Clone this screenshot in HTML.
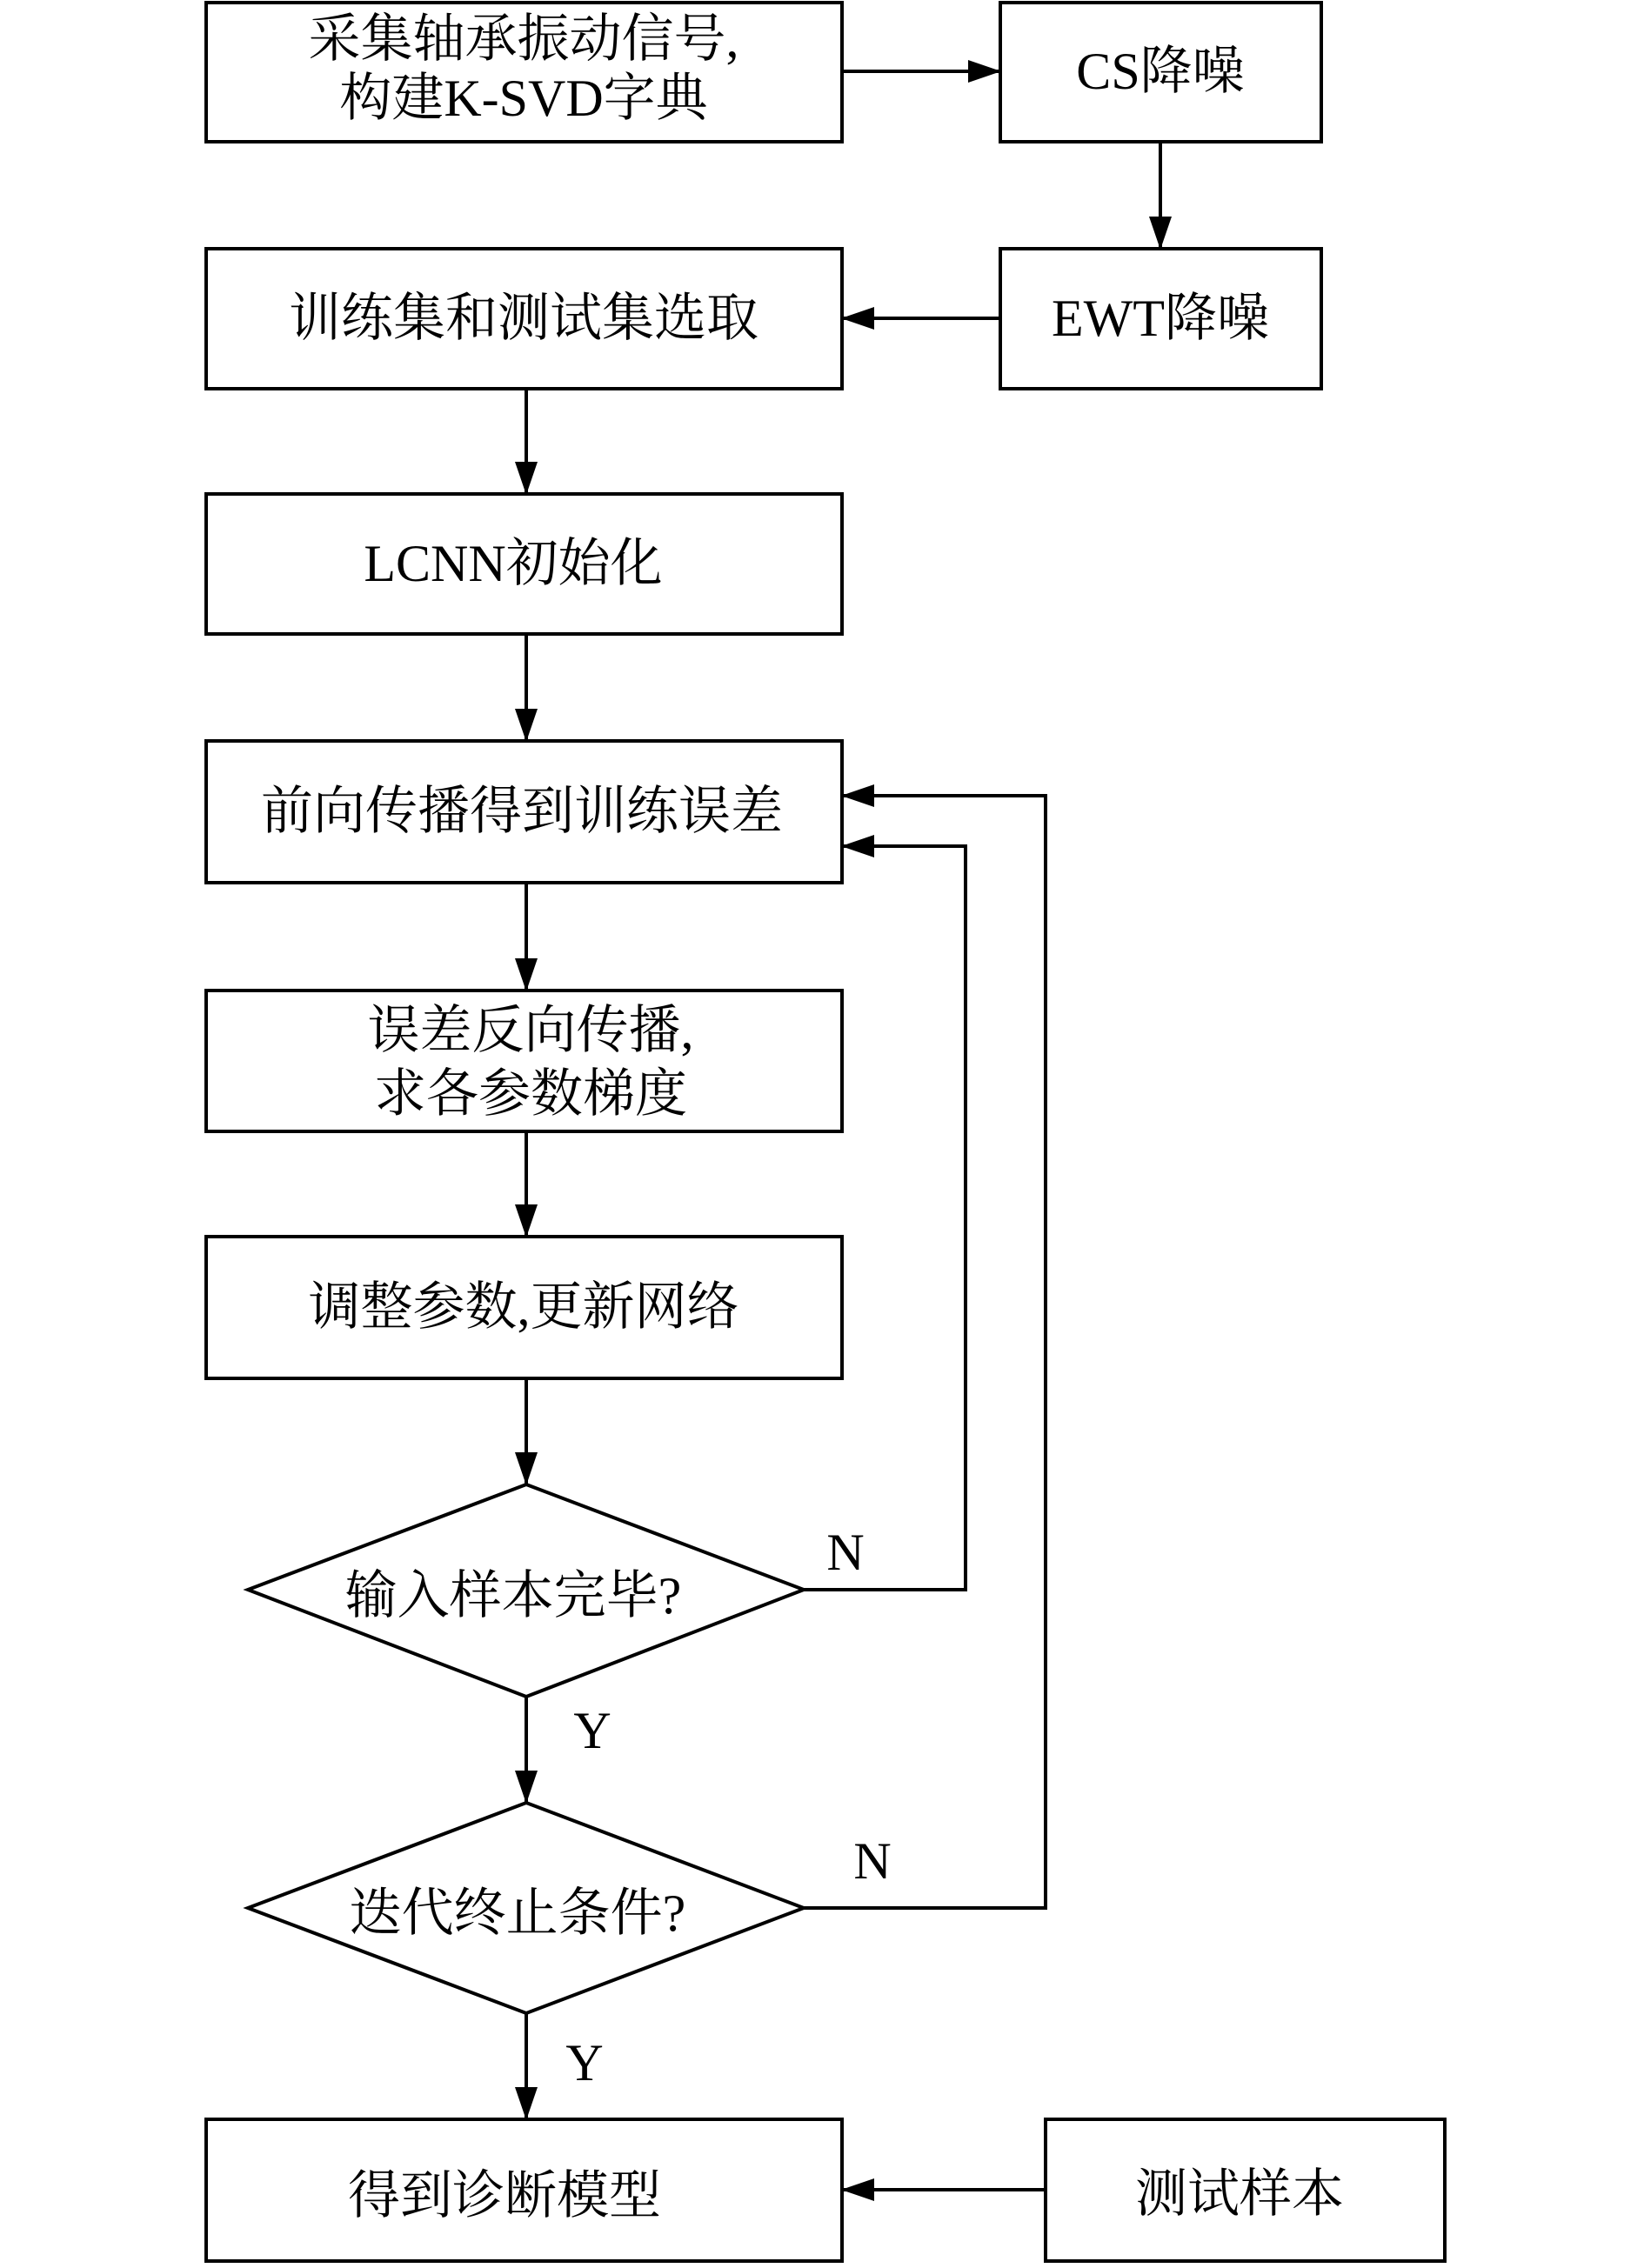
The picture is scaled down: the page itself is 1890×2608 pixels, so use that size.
<!DOCTYPE html>
<html><head><meta charset="utf-8"><style>
html,body{margin:0;padding:0;background:#fff}
svg text{font-family:"Liberation Serif","Noto Serif CJK SC",serif;font-size:60px;fill:#000}
</style></head><body>
<svg width="1890" height="2603" viewBox="0 0 1890 2603" xmlns="http://www.w3.org/2000/svg">
<defs><marker id="a" markerWidth="38" markerHeight="26" refX="37" refY="13" orient="auto" markerUnits="userSpaceOnUse"><path d="M0,0 L38,13 L0,26 Z" fill="#000"/></marker></defs>
<g fill="none" stroke="#000" stroke-width="4">
<rect x="237" y="3" width="731" height="160"/>
<rect x="1150" y="3" width="369" height="160"/>
<rect x="1150" y="286" width="369" height="161"/>
<rect x="237" y="286" width="731" height="161"/>
<rect x="237" y="568" width="731" height="161"/>
<rect x="237" y="852" width="731" height="163"/>
<rect x="237" y="1139" width="731" height="162"/>
<rect x="237" y="1422" width="731" height="163"/>
<polygon points="605,1707 924,1828 605,1951 285,1828"/>
<polygon points="605,2073 924,2194 605,2315 285,2194"/>
<rect x="237" y="2437" width="731" height="163"/>
<rect x="1202" y="2437" width="459" height="163"/>
<line x1="968" y1="82" x2="1150" y2="82" marker-end="url(#a)"/>
<line x1="1334" y1="163" x2="1334" y2="286" marker-end="url(#a)"/>
<line x1="1150" y1="366" x2="968" y2="366" marker-end="url(#a)"/>
<line x1="605" y1="447" x2="605" y2="568" marker-end="url(#a)"/>
<line x1="605" y1="729" x2="605" y2="852" marker-end="url(#a)"/>
<line x1="605" y1="1015" x2="605" y2="1139" marker-end="url(#a)"/>
<line x1="605" y1="1301" x2="605" y2="1422" marker-end="url(#a)"/>
<line x1="605" y1="1585" x2="605" y2="1707" marker-end="url(#a)"/>
<line x1="605" y1="1951" x2="605" y2="2073" marker-end="url(#a)"/>
<line x1="605" y1="2315" x2="605" y2="2437" marker-end="url(#a)"/>
<line x1="1202" y1="2518" x2="968" y2="2518" marker-end="url(#a)"/>
<polyline points="924,1828 1110,1828 1110,973 968,973" marker-end="url(#a)"/>
<polyline points="924,2194 1202,2194 1202,915 968,915" marker-end="url(#a)"/>
</g>
<g text-anchor="middle" dominant-baseline="central">
<text x="602" y="45">采集轴承振动信号,</text>
<text x="602" y="113">构建K-SVD字典</text>
<text x="1334" y="82">CS降噪</text>
<text x="1334" y="366">EWT降噪</text>
<text x="602" y="366">训练集和测试集选取</text>
<text x="590" y="648">LCNN初始化</text>
<text x="600" y="933">前向传播得到训练误差</text>
<text x="610" y="1185">误差反向传播,</text>
<text x="610" y="1258">求各参数梯度</text>
<text x="602" y="1503">调整参数,更新网络</text>
<text x="590" y="1835">输入样本完毕?</text>
<text x="595" y="2200">迭代终止条件?</text>
<text x="580" y="2525">得到诊断模型</text>
<text x="1425" y="2523">测试样本</text>
<text x="972" y="1785">N</text>
<text x="1003" y="2140">N</text>
<text x="681" y="1990">Y</text>
<text x="672" y="2372">Y</text>
</g>
</svg>
</body></html>
